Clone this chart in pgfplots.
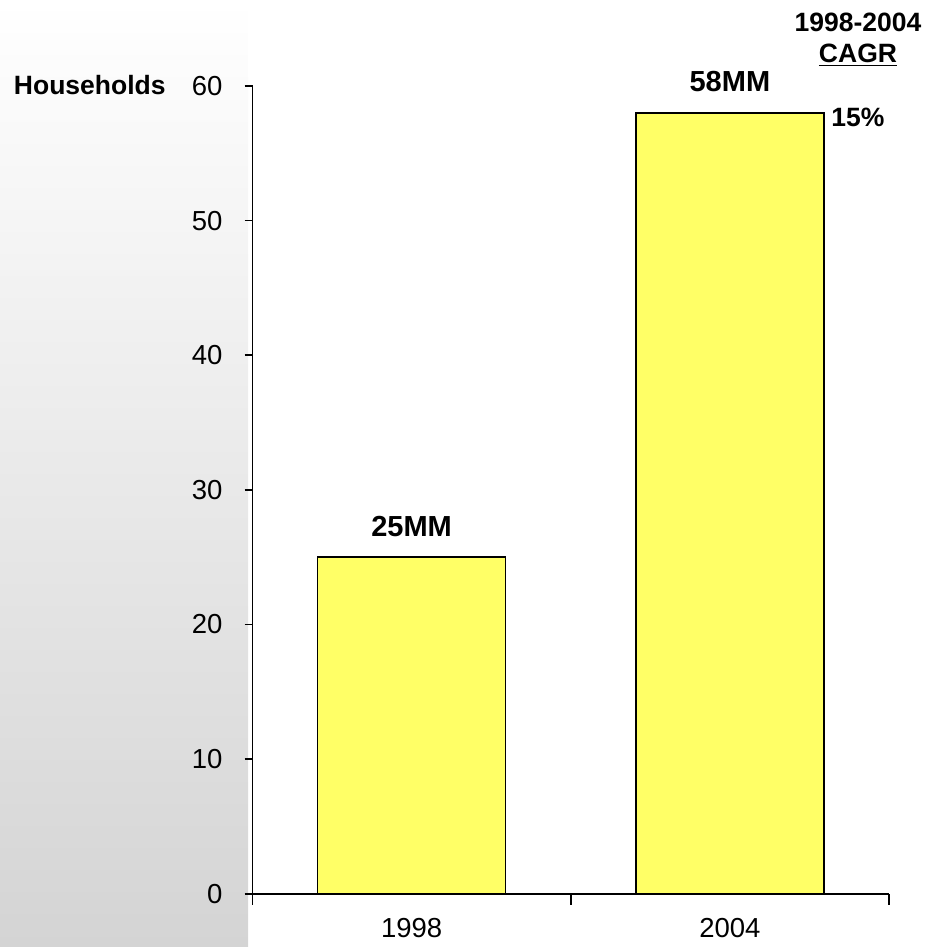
\documentclass[border=0pt]{standalone}
\usepackage{pgfplots}
\pgfplotsset{compat=1.18}
\usepackage{fontspec}
\setmainfont{Liberation Sans}
\definecolor{baryellow}{RGB}{255,255,102}
\definecolor{panelgray}{RGB}{212,212,212}
\begin{document}
\begin{tikzpicture}
\path[use as bounding box] (0,0) rectangle (463pt,473.5pt);
\shade[top color=white, bottom color=panelgray] (0,0) rectangle (124pt,473.5pt);
\begin{axis}[
  at={(126.25pt,26.65pt)}, anchor=south west,
  scale only axis, width=318.25pt, height=403.85pt,
  xmin=-0.5, xmax=1.5, ymin=0, ymax=60,
  axis x line=bottom, axis y line=left,
  axis line style={-, line width=0.8pt},
  ytick={0,10,...,60},
  xtick={0,1}, xticklabels={1998,2004},
  major tick length=4pt,
  tick style={line width=0.8pt, black},
  xtick style={draw=none},
  tick align=outside,
  extra x ticks={-0.5,0.5,1.5}, extra x tick labels={},
  extra x tick style={major tick length=5.5pt, xtick style={draw=black, line width=0.8pt}},
  tick label style={font=\fontsize{13.75}{16}\selectfont},
  /pgf/number format/assume math mode=true,
  xticklabel style={anchor=base, yshift=-18pt},
  yticklabel style={anchor=east, xshift=-7.5pt},
  clip=false,
  ybar, bar width=94pt,
  nodes near coords={\pgfmathprintnumber\pgfplotspointmeta MM},
  every node near coord/.append style={font=\bfseries\fontsize{14.5}{17}\selectfont, anchor=base, yshift=10.5pt},
]
\addplot[fill=baryellow, draw=black, line width=0.8pt] coordinates {(0,25) (1,58)};
\end{axis}
\node[anchor=base east, inner sep=0pt, font=\bfseries\fontsize{13.25}{16}\selectfont] at (83pt,426.35pt) {Households};
\node[anchor=base, font=\bfseries\fontsize{13.25}{16}\selectfont] at (429pt,457.7pt) {1998-2004};
\node[anchor=base, font=\bfseries\fontsize{13.25}{16}\selectfont] at (429pt,442.2pt) {\underline{CAGR}};
\node[anchor=base, font=\bfseries\fontsize{13.25}{16}\selectfont] at (429pt,410.2pt) {15\%};
\end{tikzpicture}
\end{document}
